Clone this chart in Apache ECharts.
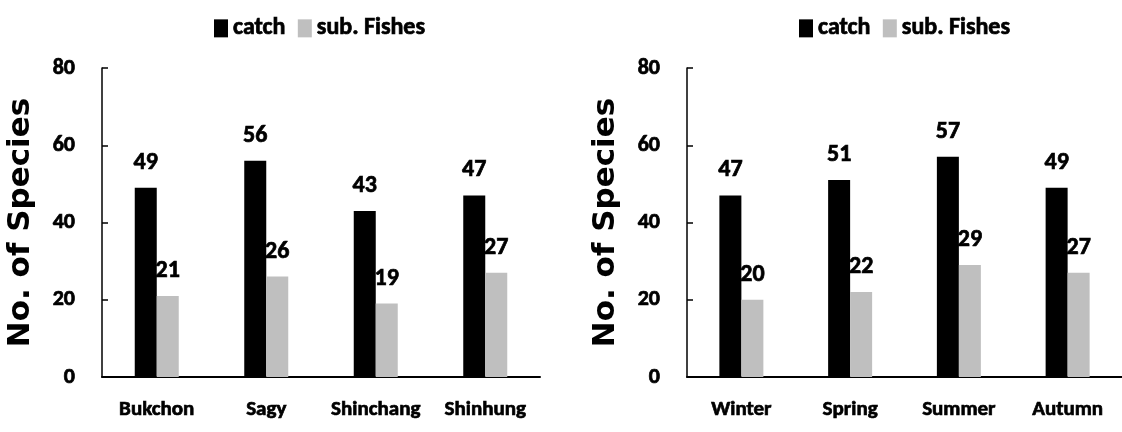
<!DOCTYPE html>
<html>
<head>
<meta charset="utf-8">
<script src="https://cdn.jsdelivr.net/npm/echarts@6/dist/echarts.min.js"></script>
<style>
  html, body { margin: 0; padding: 0; background: #fff; }
  #chart { width: 1122px; height: 432px; }
</style>
</head>
<body>
<div id="chart"></div>
<script>
// Species counts by site and by season
const siteNames = ['Bukchon', 'Sagy', 'Shinchang', 'Shinhung'];
const siteCatch = [49, 56, 43, 47];
const siteSubFishes = [21, 26, 19, 27];

const seasonNames = ['Winter', 'Spring', 'Summer', 'Autumn'];
const seasonCatch = [47, 51, 57, 49];
const seasonSubFishes = [20, 22, 29, 27];

const seriesNames = ['catch', 'sub. Fishes'];
const yTicks = [0, 20, 40, 60, 80];

const narrow = "Carlito, 'Open Sans', sans-serif";
const wide = "'DejaVu Sans', Verdana, sans-serif";
const colors = ['#000000', '#bfbfbf'];

// heavy condensed lettering used for ticks, legend and value labels
function heavy(size) {
  return {
    color: '#000', fontFamily: narrow, fontWeight: 'bold', fontSize: size,
    textBorderColor: '#000', textBorderWidth: 0.7
  };
}

function grid(left, right) {
  return { left: left, right: right, top: 68, bottom: 55, containLabel: false };
}

function xAxis(idx, cats) {
  return {
    type: 'category', gridIndex: idx, data: cats,
    axisLine: { lineStyle: { color: '#000', width: 2 } },
    axisTick: { show: false },
    axisLabel: Object.assign({ interval: 0, margin: 22 }, heavy(21))
  };
}

function yAxis(idx) {
  return {
    type: 'value', gridIndex: idx,
    min: yTicks[0], max: yTicks[yTicks.length - 1], interval: yTicks[1] - yTicks[0],
    name: 'No. of Species', nameLocation: 'middle', nameGap: 66,
    nameTextStyle: { color: '#000', fontFamily: wide, fontWeight: 'bold', fontSize: 31 },
    axisLine: { show: true, lineStyle: { color: '#000', width: 1.5 } },
    axisTick: { show: true, inside: true, length: 6, lineStyle: { color: '#000', width: 1.5 } },
    splitLine: { show: false },
    axisLabel: Object.assign({ margin: 27 }, heavy(22))
  };
}

function bars(idx, name, values, color) {
  return {
    type: 'bar', name: name, xAxisIndex: idx, yAxisIndex: idx,
    data: values, barWidth: 22, barGap: '0%',
    itemStyle: { color: color },
    label: Object.assign({ show: true, position: 'top', distance: 13 }, heavy(24))
  };
}

function legend(left) {
  return {
    data: seriesNames, left: left, top: 11,
    itemWidth: 14, itemHeight: 18, itemGap: 12,
    icon: 'rect',
    textStyle: heavy(24)
  };
}

const chart = echarts.init(document.getElementById('chart'), null, { renderer: 'canvas' });
chart.setOption({
  animation: false,
  color: colors,
  legend: [legend(209), legend(794)],
  grid: [grid(102, 582), grid(687, -4)],
  xAxis: [xAxis(0, siteNames), xAxis(1, seasonNames)],
  yAxis: [yAxis(0), yAxis(1)],
  series: [
    bars(0, seriesNames[0], siteCatch, colors[0]),
    bars(0, seriesNames[1], siteSubFishes, colors[1]),
    bars(1, seriesNames[0], seasonCatch, colors[0]),
    bars(1, seriesNames[1], seasonSubFishes, colors[1])
  ]
});
</script>
</body>
</html>
